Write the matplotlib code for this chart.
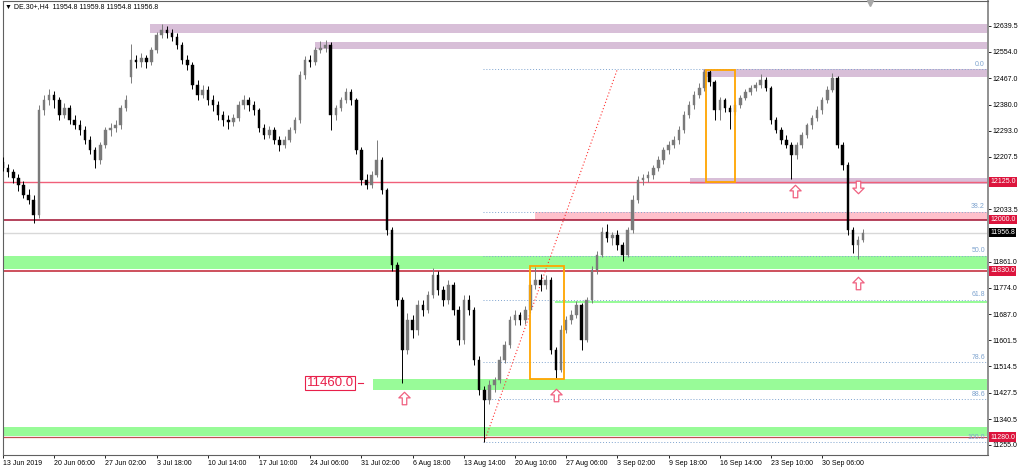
import numpy as np
import matplotlib
matplotlib.use('Agg')
import matplotlib.pyplot as plt
import matplotlib.transforms as mtransforms
from matplotlib.patches import Rectangle
from matplotlib.path import Path

plt.rcParams['font.family'] = ['Liberation Sans', 'DejaVu Sans']

# DE.30+ H4 candles (one candle per half day)
opens = [12190, 12170, 12157, 12137, 12114, 12081, 12065, 12015, 12362, 12395,
         12411, 12395, 12345, 12369, 12329, 12312, 12296, 12263, 12230, 12197,
         12246, 12296, 12302, 12312, 12369, 12470, 12527, 12521, 12534, 12521,
         12560, 12610, 12626, 12616, 12603, 12577, 12527, 12511, 12445, 12411,
         12428, 12395, 12378, 12345, 12329, 12322, 12335, 12378, 12395, 12378,
         12362, 12302, 12279, 12296, 12263, 12246, 12263, 12296, 12329, 12478,
         12527, 12521, 12560, 12567, 12577, 12345, 12369, 12395, 12421, 12395,
         12230, 12131, 12114, 12147, 12197, 12098, 11965, 11850, 11734, 11569,
         11668, 11635, 11718, 11701, 11751, 11817, 11767, 11734, 11784, 11701,
         11602, 11734, 11701, 11536, 11437, 11404, 11453, 11470, 11536, 11586,
         11668, 11685, 11668, 11701, 11784, 11800, 11784, 11800, 11569, 11503,
         11635, 11668, 11685, 11718, 11602, 11734, 11833, 11883, 11959, 11939,
         11949, 11916, 11883, 11965, 12065, 12131, 12137, 12147, 12170, 12197,
         12230, 12246, 12263, 12296, 12345, 12378, 12411, 12435, 12487, 12454,
         12362, 12395, 12369, 12355, 12378, 12402, 12421, 12435, 12445, 12461,
         12435, 12329, 12296, 12263, 12246, 12213, 12246, 12279, 12312, 12335,
         12362, 12395, 12428, 12468, 12246, 12180, 11965, 11916, 11932]
highs = [12205, 12185, 12168, 12150, 12128, 12100, 12080, 12380, 12410, 12430,
         12425, 12405, 12385, 12380, 12345, 12330, 12310, 12275, 12240, 12255,
         12305, 12320, 12330, 12380, 12410, 12580, 12545, 12550, 12545, 12570,
         12620, 12645, 12640, 12630, 12615, 12585, 12545, 12520, 12460, 12445,
         12440, 12410, 12390, 12360, 12345, 12350, 12390, 12410, 12405, 12390,
         12370, 12315, 12310, 12305, 12275, 12275, 12305, 12340, 12490, 12540,
         12545, 12570, 12590, 12592, 12585, 12380, 12405, 12435, 12430, 12400,
         12240, 12150, 12160, 12263, 12205, 12105, 11975, 11860, 11745, 11690,
         11685, 11735, 11735, 11765, 11840, 11830, 11780, 11800, 11795, 11715,
         11750, 11750, 11710, 11550, 11450, 11470, 11480, 11550, 11600, 11680,
         11700, 11695, 11715, 11800, 11842, 11820, 11815, 11810, 11580, 11650,
         11680, 11700, 11730, 11725, 11745, 11845, 11895, 11975, 11985, 11960,
         11965, 11925, 11975, 12080, 12145, 12150, 12160, 12180, 12210, 12240,
         12260, 12275, 12310, 12360, 12390, 12425, 12450, 12497, 12495, 12460,
         12405, 12400, 12380, 12390, 12410, 12430, 12445, 12455, 12480, 12470,
         12440, 12340, 12305, 12280, 12255, 12255, 12290, 12320, 12345, 12375,
         12405, 12440, 12485, 12475, 12255, 12190, 11975, 11945, 11970]
lows = [12160, 12140, 12120, 12095, 12070, 12050, 11988, 12005, 12345, 12380,
        12370, 12330, 12335, 12315, 12300, 12280, 12250, 12215, 12170, 12185,
        12235, 12275, 12290, 12300, 12360, 12450, 12500, 12505, 12500, 12510,
        12550, 12600, 12600, 12590, 12565, 12515, 12495, 12430, 12395, 12400,
        12380, 12360, 12330, 12310, 12300, 12310, 12325, 12365, 12360, 12345,
        12290, 12265, 12270, 12250, 12225, 12235, 12255, 12285, 12320, 12465,
        12505, 12510, 12550, 12555, 12296, 12330, 12360, 12385, 12380, 12215,
        12115, 12100, 12105, 12140, 12085, 11950, 11830, 11715, 11460, 11555,
        11610, 11620, 11680, 11690, 11740, 11750, 11715, 11720, 11685, 11585,
        11590, 11685, 11520, 11420, 11265, 11390, 11430, 11460, 11525, 11575,
        11650, 11650, 11655, 11690, 11770, 11765, 11770, 11555, 11475, 11495,
        11625, 11655, 11675, 11570, 11595, 11725, 11820, 11875, 11925, 11915,
        11900, 11862, 11875, 11955, 12055, 12115, 12125, 12135, 12160, 12185,
        12215, 12235, 12250, 12285, 12335, 12365, 12400, 12425, 12440, 12330,
        12330, 12355, 12300, 12345, 12370, 12395, 12410, 12425, 12435, 12425,
        12315, 12285, 12250, 12235, 12135, 12200, 12235, 12270, 12300, 12325,
        12350, 12385, 12420, 12235, 12165, 11950, 11890, 11870, 11925]
closes = [12170, 12157, 12137, 12114, 12081, 12065, 12015, 12362, 12395, 12411,
          12395, 12345, 12369, 12329, 12312, 12296, 12263, 12230, 12197, 12246,
          12296, 12302, 12312, 12369, 12395, 12527, 12521, 12534, 12521, 12560,
          12610, 12626, 12616, 12603, 12577, 12527, 12511, 12445, 12411, 12428,
          12395, 12378, 12345, 12329, 12322, 12335, 12378, 12395, 12378, 12362,
          12302, 12279, 12296, 12263, 12246, 12263, 12296, 12329, 12478, 12527,
          12521, 12560, 12567, 12577, 12345, 12369, 12395, 12421, 12395, 12230,
          12131, 12114, 12147, 12197, 12098, 11965, 11850, 11734, 11569, 11668,
          11635, 11718, 11701, 11751, 11817, 11767, 11734, 11784, 11701, 11602,
          11734, 11701, 11536, 11437, 11404, 11453, 11470, 11536, 11586, 11668,
          11685, 11668, 11701, 11784, 11800, 11784, 11800, 11569, 11503, 11635,
          11668, 11685, 11718, 11602, 11734, 11833, 11883, 11959, 11939, 11949,
          11916, 11883, 11965, 12065, 12131, 12137, 12147, 12170, 12197, 12230,
          12246, 12263, 12296, 12345, 12378, 12411, 12435, 12487, 12454, 12362,
          12395, 12369, 12355, 12378, 12402, 12421, 12435, 12445, 12461, 12435,
          12329, 12296, 12263, 12246, 12213, 12246, 12279, 12312, 12335, 12362,
          12395, 12428, 12468, 12246, 12180, 11965, 11916, 11932, 11957]

date_labels = ['13 Jun 2019', '20 Jun 06:00', '27 Jun 02:00', '3 Jul 18:00',
               '10 Jul 14:00', '17 Jul 10:00', '24 Jul 06:00', '31 Jul 02:00',
               '6 Aug 18:00', '13 Aug 14:00', '20 Aug 10:00', '27 Aug 06:00',
               '3 Sep 02:00', '9 Sep 18:00', '16 Sep 14:00', '23 Sep 10:00',
               '30 Sep 06:00']
price_ticks = [12639.5, 12554.0, 12467.0, 12380.0, 12293.0, 12207.5, 12033.5,
               11861.0, 11774.0, 11687.0, 11601.5, 11514.5, 11427.5, 11340.5,
               11255.0]

# zones: (start bar, low price, high price)
purple_zones = [(28.7, 12618, 12647), (60.9, 12564, 12588),
                (136.7, 12470, 12497), (134.2, 12117, 12136)]
green_zones = [(0, 11838, 11880), (72.3, 11438, 11472), (0, 11286, 11315),
               (107.8, 11725, 11732)]
pink_zone = (103.9, 12000, 12026)
# horizontal levels
last_price = 11956.8
# fibonacci retracement
fib_start, fib_end = 94, 120
fib_low, fib_high = 11265, 12497
fib_ratios = [0.0, 38.2, 50.0, 61.8, 78.6, 88.6, 100.0]
# orange boxes: (bar from, bar to, low, high)
boxes = [(102.9, 109.6, 11473, 11845), (137.3, 143.0, 12125, 12494)]
# arrows: (bar, price)
up_arrows = [(78.3, 11410), (108.0, 11420), (154.7, 12094), (167.0, 11790)]
down_arrows = [(167.0, 12107)]
support_label = 11460.0

o = np.array(opens, float)
h = np.array(highs, float)
l = np.array(lows, float)
c = np.array(closes, float)
x = np.arange(len(c))

fig = plt.figure(figsize=(10.24, 4.69), dpi=100)
ax = fig.add_axes([3/1024, 1 - 455/469, 985/1024, 454/469])
ax.set_xlim(0, 985/5.12)
ax.set_ylim(11221.8, 12722.1)
xmax = 985/5.12

# zones
for x0, lo, hi in purple_zones:
    ax.add_patch(Rectangle((x0, lo), xmax - x0, hi - lo, fc='#d8bfd8', ec='none', zorder=1))
for x0, lo, hi in green_zones:
    ax.add_patch(Rectangle((x0, lo), xmax - x0, hi - lo, fc='#98fb98', ec='none', zorder=1))
ax.add_patch(Rectangle((pink_zone[0], pink_zone[1]), xmax - pink_zone[0],
                       pink_zone[2] - pink_zone[1], fc='#ffc0cb', ec='none', zorder=1))

# levels
ax.axhline(12125.0, color='#f0607a', lw=1.0, zorder=2)
ax.axhline(12000.0, color='#a01030', lw=1.1, zorder=2)
ax.axhline(11830.0, color='#c02030', lw=1.1, zorder=2)
ax.axhline(11280.0, color='#c05050', lw=0.9, zorder=2)
ax.axhline(last_price, color='#d8d8d8', lw=1.0, zorder=2)

# fib
fib_col = '#7fa4cf'
for r in fib_ratios:
    lvl = fib_high - (fib_high - fib_low) * r / 100
    ax.plot([fib_start - 0.3, xmax], [lvl, lvl], color=fib_col, lw=0.7,
            ls=(0, (1, 2)), zorder=2)
    ax.text(xmax - 0.6, lvl + 4, '%.1f' % r, color=fib_col, fontsize=5,
            ha='right', va='bottom', zorder=6)
ax.plot([fib_start, fib_end], [fib_low, fib_high], color='#ff3030', lw=0.8,
        ls=(0, (1, 2)), zorder=2)

# candles
cols = np.where(c >= o, '#7a7a7a', '#000000')
ax.vlines(x, l, h, colors=cols, lw=0.7, zorder=3)
ax.bar(x, np.maximum(np.abs(c - o), 3), bottom=np.minimum(o, c), width=0.5,
       color=cols, edgecolor=cols, lw=0.3, zorder=3)

# boxes
for a, b, lo, hi in boxes:
    ax.add_patch(Rectangle((a, lo), b - a, hi - lo, fill=False, ec='#ffa500',
                           lw=1.3, zorder=4))

# arrows
arrow_up = Path([(0, 0.5), (0.45, 0.05), (0.18, 0.05), (0.18, -0.5), (-0.18, -0.5),
                 (-0.18, 0.05), (-0.45, 0.05), (0, 0.5)], closed=True)
arrow_down = Path([(vx, -vy) for vx, vy in arrow_up.vertices], closed=True)
for bx, py in up_arrows:
    ax.plot(bx, py, marker=arrow_up, ms=9, mfc='white', mec='#f06080', mew=0.9, zorder=5)
for bx, py in down_arrows:
    ax.plot(bx, py, marker=arrow_down, ms=9, mfc='white', mec='#f06080', mew=0.9, zorder=5)

# 11460 label
ax.text(63.9, support_label, '%.1f' % support_label, fontsize=9.5, color='#e8204a',
        ha='center', va='center', zorder=6,
        bbox=dict(boxstyle='square,pad=0.1', fc='white', ec='#e8204a', lw=0.8))
ax.plot([69.3, 70.4], [support_label, support_label], color='#e8204a', lw=0.8, zorder=6)

# axes
ax.yaxis.tick_right()
ax.set_yticks(price_ticks)
ax.set_yticklabels(['%.1f' % t for t in price_ticks])
ax.tick_params(axis='y', direction='out', length=2, width=0.6, labelsize=5, pad=1.5)
ax.set_xticks(np.arange(0, 170, 10))
ax.set_xticklabels(date_labels, ha='left')
ax.tick_params(axis='x', direction='out', length=2, width=0.6, labelsize=5, pad=1.5)
for s in ax.spines.values():
    s.set_color('#606060')
    s.set_linewidth(0.8)
ax.spines['right'].set_color('#909090')
ax.spines['right'].set_linewidth(1.4)

trans = mtransforms.blended_transform_factory(ax.transAxes, ax.transData)
for lvl, col in [(12125.0, '#dc143c'), (12000.0, '#dc143c'), (last_price, '#000000'),
                 (11830.0, '#dc143c'), (11280.0, '#dc143c')]:
    ax.text(1.002, lvl, '%.1f' % lvl, transform=trans, fontsize=5, color='white',
            ha='left', va='center', zorder=7, clip_on=False,
            bbox=dict(boxstyle='square,pad=0.2', fc=col, ec='none'))

fig.text(5/1024, 1 - 7/469, '\u25bc DE.30+,H4  11954.8 11959.8 11954.8 11956.8',
         fontsize=5, va='center', ha='left')
ax.plot(0.88, 0.995, marker='v', ms=4, color='#a8a8a8', transform=ax.transAxes,
        clip_on=False, zorder=7)

fig.savefig('out.png', dpi=100)
